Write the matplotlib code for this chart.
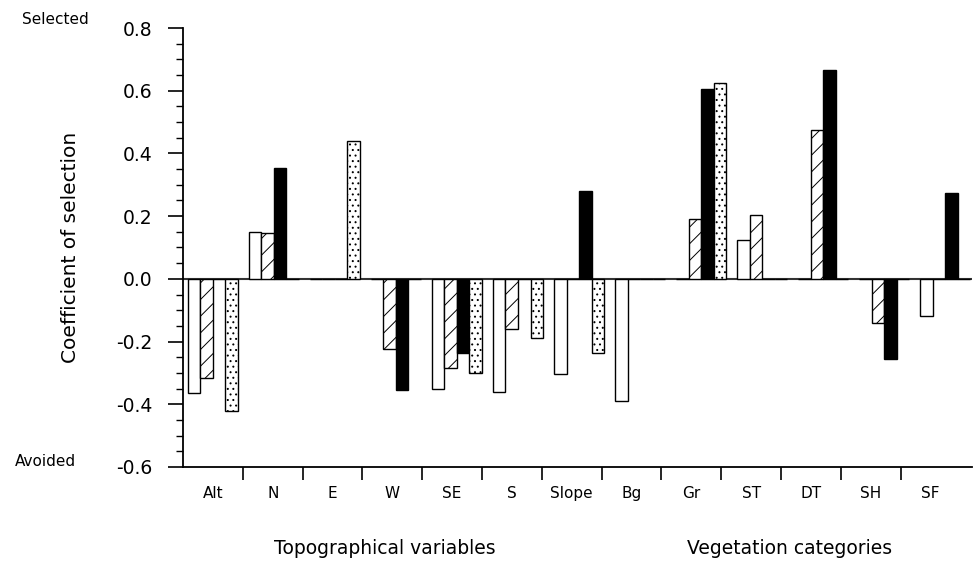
import matplotlib
matplotlib.use("Agg")
import matplotlib.pyplot as plt
import numpy as np

categories = ["Alt", "N", "E", "W", "SE", "S", "Slope",
              "Bg", "Gr", "ST", "DT", "SH", "SF"]

# four series per category
white = [-0.365, 0.15, 0, 0, -0.35, -0.36, -0.305, -0.39, 0, 0.125, 0, 0, -0.12]
hatched = [-0.315, 0.145, 0, -0.225, -0.285, -0.16, 0, 0, 0.19, 0.205, 0.475, -0.14, 0]
black = [0, 0.355, 0, -0.355, -0.235, 0, 0.28, 0, 0.605, 0, 0.665, -0.255, 0.273]
dotted = [-0.42, 0, 0.44, 0, -0.30, -0.19, -0.235, 0, 0.625, 0, 0, 0, 0]

yticks = [-0.6, -0.4, -0.2, 0.0, 0.2, 0.4, 0.6, 0.8]

plt.rcParams['hatch.linewidth'] = 0.7
plt.rcParams['font.family'] = ['DejaVu Sans']

fig = plt.figure(figsize=(9.76, 5.62), dpi=100)
ax = fig.add_axes([183 / 976, 95 / 562, 789 / 976, 439 / 562])

x = np.arange(len(categories))
w = 0.205
styles = [
    (white, 'white', ''),
    (hatched, 'white', '//'),
    (black, 'black', ''),
    (dotted, 'white', '...'),
]
for i, (vals, fc, hatch) in enumerate(styles):
    ax.bar(x + (i - 1.5) * w, vals, width=w, color=fc, edgecolor='black',
           hatch=hatch, linewidth=1.0)

ax.axhline(0, color='#333333', linewidth=1.5, zorder=0)

ax.set_ylim(-0.6, 0.8)
ax.set_xlim(-0.49, 12.44)

# category labels sit on a slightly tighter pitch than the bars
label_pos = x * 0.98
ax.set_xticks(label_pos)
ax.set_xticklabels(categories, fontsize=11)
ax.set_xticks((x[:-1] + 0.5) * 0.98, minor=True)
ax.tick_params(axis='x', which='major', length=0, pad=14)
ax.tick_params(axis='x', which='minor', length=9, width=1.2, direction='out')

ax.set_yticks(yticks)
ax.set_yticklabels([f"{v:.1f}" for v in yticks], fontsize=13.5)
ax.set_yticks(np.arange(-0.6, 0.801, 0.05), minor=True)
ax.tick_params(axis='y', which='major', length=11, width=1.2, pad=11)
ax.tick_params(axis='y', which='minor', length=5, width=1.0)

for s in ['top', 'right']:
    ax.spines[s].set_visible(False)
for s in ['left', 'bottom']:
    ax.spines[s].set_linewidth(1.3)

ax.set_ylabel("Coefficient of selection", fontsize=14.5)
ax.yaxis.set_label_coords(-0.13, 0.5)

fig.text(55 / 976, 1 - 20 / 562, "Selected", fontsize=11, ha='center', va='center')
fig.text(45 / 976, 1 - 462 / 562, "Avoided", fontsize=11, ha='center', va='center')
fig.text(385 / 976, 1 - 548 / 562, "Topographical variables", fontsize=13.5,
         ha='center', va='center')
fig.text(790 / 976, 1 - 548 / 562, "Vegetation categories", fontsize=13.5,
         ha='center', va='center')

fig.savefig("out.png", dpi=100)
